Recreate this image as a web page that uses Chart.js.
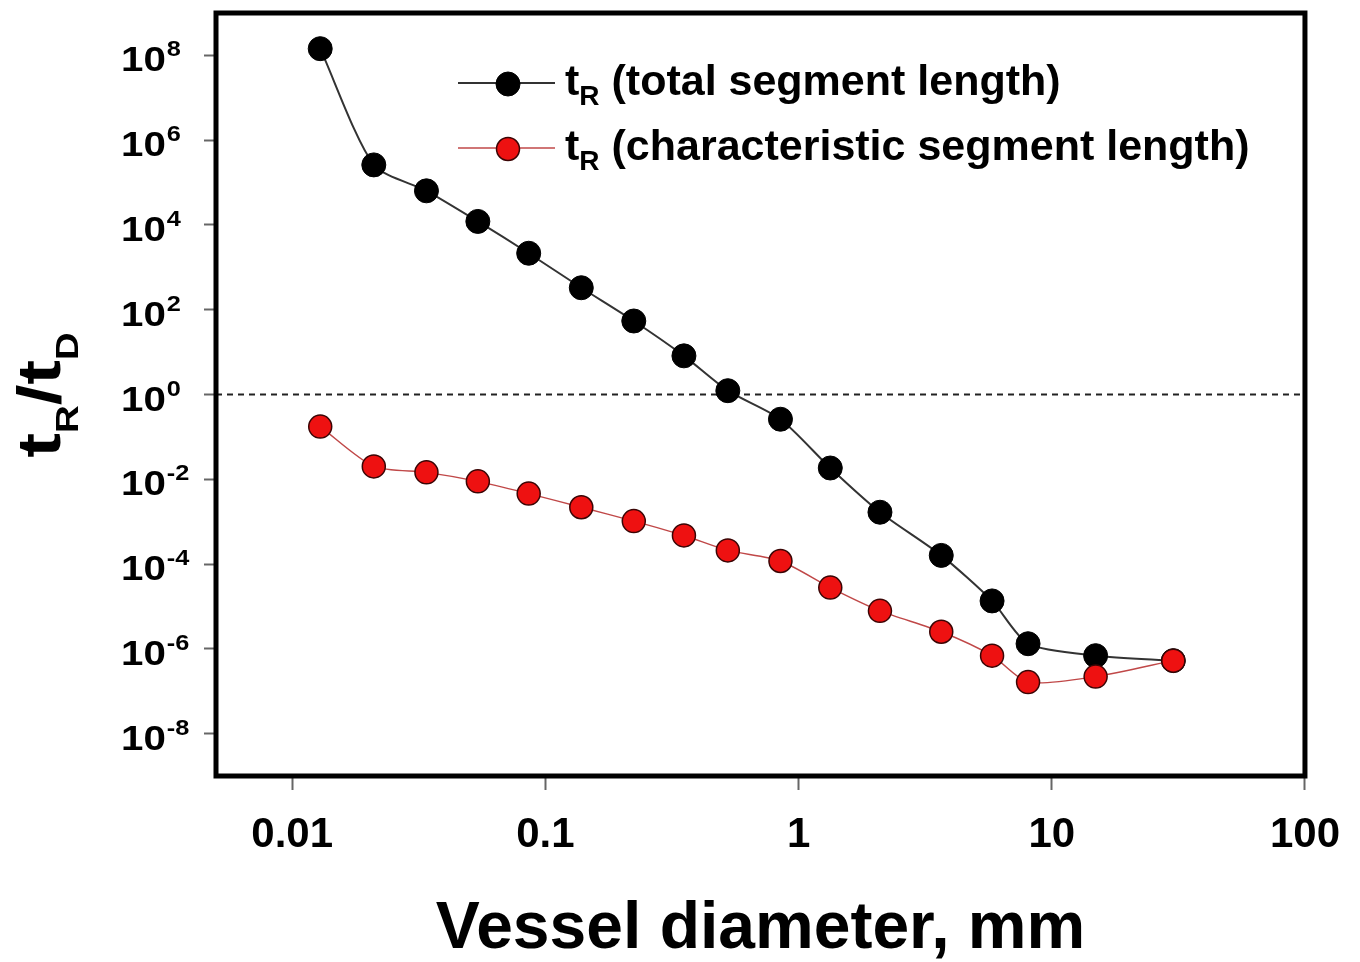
<!DOCTYPE html>
<html>
<head>
<meta charset="utf-8">
<title>tR/tD vs vessel diameter</title>
<script src="https://cdn.jsdelivr.net/npm/chart.js@4.4.1/dist/chart.umd.min.js"></script>
<style>
  html, body { margin: 0; padding: 0; background: #fff; }
  #wrap { width: 1360px; height: 962px; position: relative; }
</style>
</head>
<body>
<div id="wrap"><canvas id="chartCanvas"></canvas></div>
<script>
// vessel diameter, mm
const diameter = [0.0129, 0.0210, 0.0339, 0.0541, 0.0859, 0.1386, 0.2234, 0.3525, 0.5254,
  0.848, 1.334, 2.096, 3.66, 5.81, 8.06, 14.9, 30.2];

// tR/tD, total segment length
const totalSeg = [1.44e8, 2.61e5, 6.38e4, 1.21e4, 2150, 330, 54.2, 8.16, 1.23,
  0.261, 0.01845, 1.67e-3, 1.60e-4, 1.35e-5, 1.32e-6, 6.9e-7, 5.27e-7];

// tR/tD, characteristic segment length
const charSeg = [0.175, 0.0201, 0.01455, 8.93e-3, 4.59e-3, 2.19e-3, 1.03e-3, 4.73e-4, 2.10e-4,
  1.18e-4, 2.79e-5, 7.88e-6, 2.53e-6, 6.9e-7, 1.64e-7, 2.22e-7, 5.27e-7];

const xTicks = [0.01, 0.1, 1, 10, 100];
const yExponents = [8, 6, 4, 2, 0, -2, -4, -6, -8];
const xRange = [0.005, 100];
const yRange = [1e-9, 1e9];
const refLineY = 1;

const legendLabels = ['(total segment length)', '(characteristic segment length)'];
const xTitle = 'Vessel diameter, mm';

const FONT = "'Liberation Sans', Arial, Helvetica, sans-serif";

function pts(ys) {
  return diameter.map((d, i) => ({ x: d, y: ys[i] }));
}

// text with optional horizontal stretch, returns drawn width
function txt(ctx, s, x, y, size, sx) {
  sx = sx || 1;
  ctx.save();
  ctx.font = 'bold ' + size + 'px ' + FONT;
  ctx.translate(x, y);
  ctx.scale(sx, 1);
  ctx.fillText(s, 0, 0);
  const w = ctx.measureText(s).width * sx;
  ctx.restore();
  return w;
}

const extras = {
  id: 'extras',
  afterDraw(chart) {
    const ctx = chart.ctx;
    const a = chart.chartArea;
    const ys = chart.scales.y;
    ctx.save();
    ctx.fillStyle = '#000';
    ctx.textBaseline = 'alphabetic';
    ctx.textAlign = 'left';

    // frame
    ctx.strokeStyle = '#000';
    ctx.lineWidth = 5;
    ctx.strokeRect(a.left, a.top, a.right - a.left, a.bottom - a.top);

    // y tick labels 10^n
    yExponents.forEach(e => {
      const py = ys.getPixelForValue(Math.pow(10, e));
      const w = txt(ctx, '10', 121, py + 16, 35, 1.15);
      txt(ctx, String(e), 121 + w + 1, py + 1, 22, 1.15);
    });

    // y title tR/tD
    ctx.save();
    ctx.translate(60, 395);
    ctx.rotate(-Math.PI / 2);
    ctx.scale(1.2, 1);
    const parts = [['t', 62, 0], ['R', 32, 18], ['/', 62, 0], ['t', 62, 0], ['D', 32, 18]];
    let total = 0;
    parts.forEach(p => { ctx.font = 'bold ' + p[1] + 'px ' + FONT; total += ctx.measureText(p[0]).width; });
    let cx = -total / 2;
    parts.forEach(p => {
      ctx.font = 'bold ' + p[1] + 'px ' + FONT;
      ctx.fillText(p[0], cx, p[2]);
      cx += ctx.measureText(p[0]).width;
    });
    ctx.restore();

    // x title
    ctx.textAlign = 'center';
    txt(ctx, xTitle, (a.left + a.right) / 2, 948, 66);
    ctx.textAlign = 'left';

    // legend
    const rows = [83, 148];
    chart.data.datasets.filter(d => d.legendRow !== undefined).forEach(ds => {
      const y = rows[ds.legendRow];
      ctx.strokeStyle = ds.borderColor;
      ctx.lineWidth = ds.borderWidth;
      ctx.beginPath();
      ctx.moveTo(458, y);
      ctx.lineTo(555, y);
      ctx.stroke();
      ctx.beginPath();
      ctx.arc(508, y + 1, ds.pointRadius, 0, Math.PI * 2);
      ctx.fillStyle = ds.pointBackgroundColor;
      ctx.fill();
      ctx.lineWidth = ds.pointBorderWidth;
      ctx.strokeStyle = ds.pointBorderColor;
      ctx.stroke();
      ctx.fillStyle = '#000';
      const base = y + 12;
      let x = 565;
      x += txt(ctx, 't', x, base, 43);
      x += txt(ctx, 'R', x, base + 10, 28);
      txt(ctx, ' ' + legendLabels[ds.legendRow], x, base, 43);
    });
    ctx.restore();
  }
};

const ctx = document.getElementById('chartCanvas').getContext('2d');
new Chart(ctx, {
  type: 'scatter',
  data: {
    datasets: [
      {
        label: 'tR (characteristic segment length)',
        legendRow: 1,
        data: pts(charSeg),
        showLine: true,
        tension: 0.25,
        borderColor: '#c04848',
        borderWidth: 1.5,
        pointRadius: 11.5,
        pointHoverRadius: 11.5,
        pointBackgroundColor: '#ee1111',
        pointBorderColor: '#3a0505',
        pointBorderWidth: 1.5,
        order: 0
      },
      {
        label: 'tR (total segment length)',
        legendRow: 0,
        data: pts(totalSeg),
        showLine: true,
        tension: 0.25,
        borderColor: '#333333',
        borderWidth: 2,
        pointRadius: 12,
        pointHoverRadius: 12,
        pointBackgroundColor: '#000000',
        pointBorderColor: '#000000',
        pointBorderWidth: 1,
        order: 1
      },
      {
        label: 'tR = tD',
        data: [{ x: xRange[0], y: refLineY }, { x: xRange[1], y: refLineY }],
        showLine: true,
        borderColor: '#222222',
        borderWidth: 2,
        borderDash: [6, 5],
        pointRadius: 0,
        order: 2
      }
    ]
  },
  options: {
    responsive: true,
    maintainAspectRatio: false,
    animation: false,
    events: [],
    layout: { padding: { top: 12, right: 54, left: 0, bottom: 0 } },
    plugins: {
      legend: { display: false },
      tooltip: { enabled: false }
    },
    scales: {
      x: {
        type: 'logarithmic',
        min: xRange[0],
        max: xRange[1],
        afterBuildTicks: s => { s.ticks = xTicks.map(v => ({ value: v })); },
        afterFit: s => { s.height = 186; },
        border: { display: false },
        grid: { drawOnChartArea: false, drawTicks: true, tickLength: 14, tickColor: '#666', tickWidth: 2 },
        ticks: {
          autoSkip: false,
          maxRotation: 0,
          padding: 20,
          color: '#000',
          font: { family: FONT, size: 42, weight: 'bold' },
          callback: v => String(v)
        }
      },
      y: {
        type: 'logarithmic',
        min: yRange[0],
        max: yRange[1],
        afterBuildTicks: s => { s.ticks = yExponents.map(e => ({ value: Math.pow(10, e) })); },
        afterFit: s => { s.width = 216; },
        border: { display: false },
        grid: { drawOnChartArea: false, drawTicks: true, tickLength: 12, tickColor: '#666', tickWidth: 2 },
        ticks: { display: false }
      }
    }
  },
  plugins: [extras]
});
</script>
</body>
</html>
